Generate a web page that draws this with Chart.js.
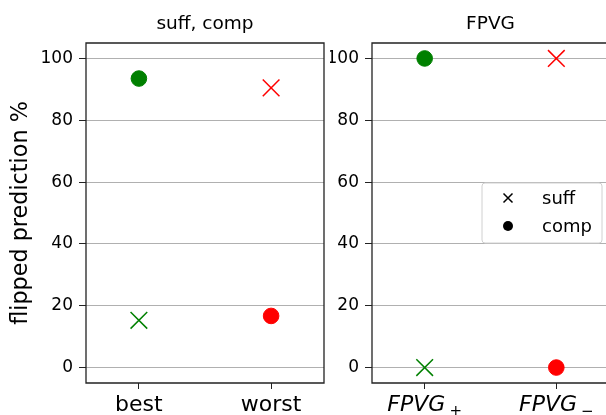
<!DOCTYPE html>
<html>
<head>
<meta charset="utf-8">
<script src="https://cdn.jsdelivr.net/npm/chart.js@4.4.0/dist/chart.umd.min.js"></script>
<style>
  html, body { margin: 0; padding: 0; overflow: hidden; background: #fff; }
  #wrap { position: relative; width: 606px; height: 415px; overflow: hidden; }
  .cell { position: absolute; top: 0; height: 415px; }
  canvas { display: block; }
</style>
</head>
<body>
<div id="wrap">
  <div class="cell" style="left:0;width:330px"><canvas id="left"></canvas></div>
  <div class="cell" style="left:330px;width:280px"><canvas id="right"></canvas></div>
</div>
<script>
// data
const leftCats = ['best', 'worst'];
const leftSuff = [15.3, 90.5];
const leftComp = [93.5, 16.7];

const rightCats = ['FPVG_+', 'FPVG_\u2212'];
const rightSuff = [0, 100];
const rightComp = [100, 0];

const catColors = ['#008000', '#ff0000'];
const yTicks = [0, 20, 40, 60, 80, 100];

const FONT = 'DejaVu Sans';
Chart.defaults.font.family = FONT;
Chart.defaults.color = '#000';

const toPoints = vals => vals.map((v, i) => ({ x: i, y: v }));

// black frame around the plot area, like matplotlib spines
const frame = {
    id: 'frame',
    afterDraw(chart, args, opts) {
        const { ctx, chartArea: a } = chart;
        ctx.save();
        ctx.strokeStyle = '#222';
        ctx.lineWidth = 1.3;
        ctx.beginPath();
        ctx.moveTo(a.right, a.top);
        ctx.lineTo(a.left, a.top);
        ctx.lineTo(a.left, a.bottom);
        ctx.lineTo(a.right, a.bottom);
        if (opts.right !== false) ctx.closePath();
        ctx.stroke();
        ctx.restore();
    }
};

// legend box inside the right panel (center right)
const innerLegend = {
    id: 'innerLegend',
    afterDraw(chart) {
        const { ctx, chartArea: a } = chart;
        const w = 120, h = 60;
        const x0 = a.right - 7 - w;
        const y0 = (a.top + a.bottom) / 2 - h / 2;
        ctx.save();
        ctx.fillStyle = 'rgba(255,255,255,0.8)';
        ctx.strokeStyle = '#d0d0d0';
        ctx.lineWidth = 1;
        ctx.beginPath();
        ctx.roundRect(x0, y0, w, h, 3);
        ctx.fill();
        ctx.stroke();
        chart.data.datasets.forEach((ds, i) => {
            const my = y0 + 15 + i * 28;
            const mx = x0 + 26;
            ctx.fillStyle = '#000';
            ctx.strokeStyle = '#000';
            if (ds.pointStyle === 'crossRot') {
                ctx.lineWidth = 1.5;
                ctx.beginPath();
                ctx.moveTo(mx - 4.5, my - 4.5); ctx.lineTo(mx + 4.5, my + 4.5);
                ctx.moveTo(mx - 4.5, my + 4.5); ctx.lineTo(mx + 4.5, my - 4.5);
                ctx.stroke();
            } else {
                ctx.beginPath();
                ctx.arc(mx, my, 5, 0, Math.PI * 2);
                ctx.fill();
            }
            ctx.font = '18px "' + FONT + '"';
            ctx.textBaseline = 'middle';
            ctx.textAlign = 'left';
            ctx.fillText(ds.label, x0 + 60, my + 1);
        });
        ctx.restore();
    }
};

// italic labels with subscript for the right panel
const subLabels = {
    id: 'subLabels',
    afterDraw(chart) {
        const { ctx } = chart;
        const sx = chart.scales.x;
        ctx.save();
        ctx.fillStyle = '#000';
        ctx.textBaseline = 'alphabetic';
        ctx.textAlign = 'left';
        rightCats.forEach((lab, i) => {
            const [main, sub] = lab.split('_');
            const px = sx.getPixelForValue(i);
            ctx.font = 'italic 22px "' + FONT + '"';
            const wm = ctx.measureText(main).width;
            ctx.font = '15px "' + FONT + '"';
            const ws = ctx.measureText(sub).width;
            const x = px - (wm + 4 + ws) / 2;
            const base = sx.top + 28;
            ctx.font = 'italic 22px "' + FONT + '"';
            ctx.fillText(main, x, base);
            ctx.font = '15px "' + FONT + '"';
            ctx.fillText(sub, x + wm + 4, base + 5);
        });
        ctx.restore();
    }
};

function makeChart(id, opts) {
    const cats = opts.cats;
    return new Chart(document.getElementById(id), {
        type: 'scatter',
        data: {
            datasets: [
                {
                    label: 'suff',
                    data: toPoints(opts.suff),
                    pointStyle: 'crossRot',
                    pointRadius: 11.8,
                    pointHoverRadius: 11.8,
                    borderWidth: 1.5,
                    borderColor: catColors,
                    backgroundColor: catColors
                },
                {
                    label: 'comp',
                    data: toPoints(opts.comp),
                    pointStyle: 'circle',
                    pointRadius: 7.8,
                    pointHoverRadius: 7.8,
                    borderWidth: 1,
                    borderColor: catColors,
                    backgroundColor: catColors
                }
            ]
        },
        options: {
            responsive: false,
            animation: false,
            events: [],
            layout: { autoPadding: false, padding: { left: 0, right: opts.padRight, top: 0, bottom: 0 } },
            plugins: {
                legend: { display: false },
                tooltip: { enabled: false },
                frame: { right: opts.rightEdge },
                title: {
                    display: true,
                    text: opts.title,
                    fullSize: false,
                    font: { size: 18.5, weight: 'normal' },
                    padding: { top: 13, bottom: 7.8 }
                }
            },
            scales: {
                x: {
                    type: 'linear',
                    min: -0.4,
                    max: 1.4,
                    afterBuildTicks: s => { s.ticks = cats.map((c, i) => ({ value: i })); },
                    afterFit: s => { s.height = 32; s.paddingLeft = 0; s.paddingRight = 0; },
                    border: { display: false },
                    grid: { drawOnChartArea: false, drawTicks: true, tickLength: 6, tickColor: '#222', tickWidth: 1 },
                    ticks: {
                        padding: 3,
                        font: { size: 22 },
                        callback: v => opts.xLabels ? cats[v] : ''
                    }
                },
                y: {
                    min: -5,
                    max: 105,
                    afterBuildTicks: s => { s.ticks = yTicks.map(v => ({ value: v })); },
                    afterFit: s => { s.width = opts.yWidth; s.paddingTop = 0; s.paddingBottom = 0; },
                    border: { display: false },
                    grid: { color: '#b0b0b0', lineWidth: 1, tickLength: 7, tickColor: '#222', tickWidth: 1 },
                    ticks: { padding: 6, font: { size: 17 } },
                    title: {
                        display: !!opts.yTitle,
                        text: opts.yTitle,
                        font: { size: 22.3 },
                        padding: { top: 8, bottom: 0 }
                    }
                }
            }
        },
        plugins: opts.plugins
    });
}

const lc = document.getElementById('left');
lc.width = 330; lc.height = 415;
const rc = document.getElementById('right');
rc.width = 280; rc.height = 415;

makeChart('left', {
    cats: leftCats, suff: leftSuff, comp: leftComp,
    title: 'suff, comp', yTitle: 'flipped prediction %',
    yWidth: 86, padRight: 6, xLabels: true, rightEdge: true,
    plugins: [frame]
});

makeChart('right', {
    cats: rightCats, suff: rightSuff, comp: rightComp,
    title: 'FPVG', yTitle: '',
    yWidth: 42, padRight: 1, xLabels: false, rightEdge: false,
    plugins: [frame, subLabels, innerLegend]
});
</script>
</body>
</html>
